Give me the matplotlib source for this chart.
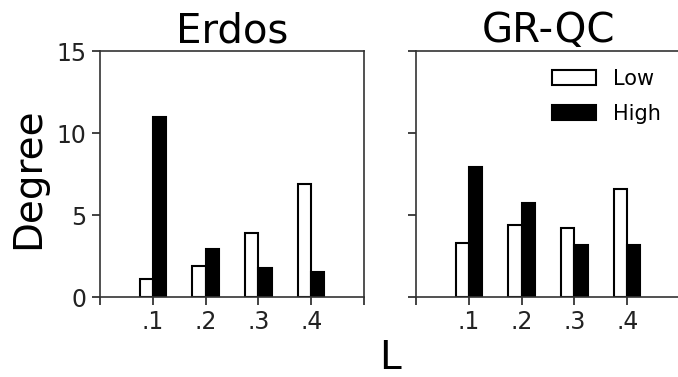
import matplotlib
matplotlib.use('Agg')
import matplotlib.pyplot as plt
import numpy as np

# values
L_labels = ['.1', '.2', '.3', '.4']
erdos_low = [1.1, 1.9, 3.9, 6.9]
erdos_high = [11.0, 2.95, 1.75, 1.5]
grqc_low = [3.3, 4.4, 4.2, 6.6]
grqc_high = [7.9, 5.75, 3.2, 3.2]

plt.rcParams['font.family'] = 'DejaVu Sans'

fig = plt.figure(figsize=(6.78, 3.77), dpi=100)
ax1 = fig.add_axes([0.1475, 0.2122, 0.3895, 0.6525])
ax2 = fig.add_axes([0.6136, 0.2122, 0.3895, 0.6525], sharey=ax1)

x = np.arange(1, len(L_labels) + 1)
width = 0.25

for ax, low, high, title in [(ax1, erdos_low, erdos_high, 'Erdos'),
                             (ax2, grqc_low, grqc_high, 'GR-QC')]:
    ax.bar(x, low, -width, align='edge', color='white', edgecolor='black',
           linewidth=1.5, label='Low')
    ax.bar(x, high, width, align='edge', color='black', edgecolor='black',
           linewidth=1.5, label='High')
    ax.set_xlim(0, 5)
    ax.set_xticks(range(6))
    ax.set_xticklabels([''] + L_labels + [''])
    ax.set_title(title, fontsize=29, pad=4)
    ax.tick_params(labelsize=17, length=6, width=1.2, colors='#222222')
    for s in ax.spines.values():
        s.set_linewidth(1.2)
        s.set_color('#333333')

ax1.set_ylim(0, 15)
ax1.set_yticks([0, 5, 10, 15])
plt.setp(ax2.get_yticklabels(), visible=False)

ax2.legend(loc='upper right', frameon=False, fontsize=15,
           handlelength=2.1, handleheight=0.7, labelspacing=0.72,
           handletextpad=0.85, bbox_to_anchor=(1.0, 1.005))

fig.text(0.042, 0.528, 'Degree', rotation=90, fontsize=28, ha='center', va='center')
fig.text(0.575, 0.0, 'L', fontsize=28, ha='center', va='bottom')

fig.savefig('out.png', dpi=100)
